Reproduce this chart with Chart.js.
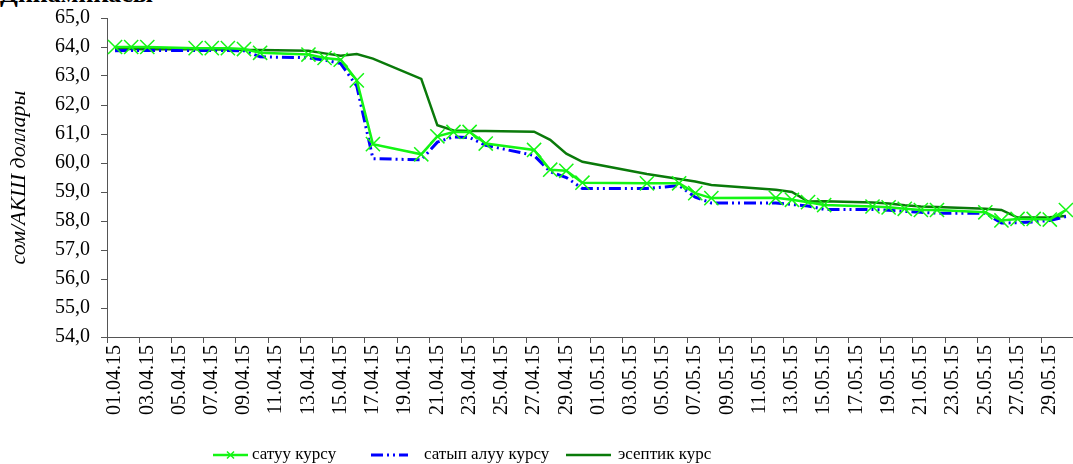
<!DOCTYPE html>
<html>
<head>
<meta charset="utf-8">
<script src="https://cdn.jsdelivr.net/npm/chart.js@4.4.1/dist/chart.umd.min.js"></script>
<style>
html,body{margin:0;padding:0;overflow:hidden;background:#fff;}
#wrap{position:relative;width:1073px;height:464px;overflow:hidden;background:#fff;}
#c{position:absolute;left:0;top:0;}
#title{position:absolute;left:0;top:-19px;font:bold 26px 'Liberation Serif',serif;line-height:1;white-space:nowrap;color:#000;}
</style>
</head>
<body>
<div id="wrap">
<div id="title">Динамикасы</div>
<canvas id="c" width="1092" height="464"></canvas>
</div>
<script>
const dates = [
 "01.04.15","02.04.15","03.04.15","04.04.15","05.04.15","06.04.15","07.04.15","08.04.15","09.04.15","10.04.15",
 "11.04.15","12.04.15","13.04.15","14.04.15","15.04.15","16.04.15","17.04.15","18.04.15","19.04.15","20.04.15",
 "21.04.15","22.04.15","23.04.15","24.04.15","25.04.15","26.04.15","27.04.15","28.04.15","29.04.15","30.04.15",
 "01.05.15","02.05.15","03.05.15","04.05.15","05.05.15","06.05.15","07.05.15","08.05.15","09.05.15","10.05.15",
 "11.05.15","12.05.15","13.05.15","14.05.15","15.05.15","16.05.15","17.05.15","18.05.15","19.05.15","20.05.15",
 "21.05.15","22.05.15","23.05.15","24.05.15","25.05.15","26.05.15","27.05.15","28.05.15","29.05.15","30.05.15"
];
// сатуу курсу
const sellRate = [
 64.00,64.00,64.00,null,null,63.96,63.96,63.96,63.93,63.80,
 null,null,63.74,63.62,63.56,62.85,60.65,null,null,60.30,
 60.92,61.07,61.07,60.67,null,null,60.45,59.77,59.73,59.32,
 null,null,null,59.30,null,59.30,58.96,58.79,null,null,
 null,58.80,58.73,58.65,58.55,null,null,58.50,58.47,58.42,
 58.38,58.38,null,null,58.30,58.02,58.07,58.07,58.05,58.38
];
// сатып алуу курсу
const buyRate = [
 63.87,63.88,63.88,null,null,63.88,63.88,63.88,63.87,63.66,
 null,null,63.63,63.55,63.43,62.65,60.15,null,null,60.11,
 60.72,60.90,60.88,60.61,null,null,60.26,59.70,59.50,59.12,
 null,null,null,59.12,null,59.22,58.82,58.62,null,null,
 null,58.62,58.57,58.52,58.40,null,null,58.40,58.37,58.33,
 58.30,58.27,null,null,58.27,57.93,57.94,57.97,58.02,58.15
];
// эсептик курс
const officialRate = [
 63.93,63.93,63.92,null,null,63.92,63.91,63.91,63.90,63.90,
 null,null,63.87,63.78,63.70,63.76,63.60,null,null,62.90,
 61.30,61.12,61.10,61.10,null,null,61.08,60.80,60.32,60.04,
 null,null,null,59.62,null,59.45,59.36,59.24,null,null,
 null,59.08,59.00,58.67,58.68,null,null,58.64,58.60,58.54,
 58.50,58.48,null,null,58.42,58.38,58.12,58.12,58.13,58.17
];
const seriesNames = ["сатуу курсу","сатып алуу курсу","эсептик курс"];
const yTitle = "сом/АКШ доллары";

const SERIF = "'Liberation Serif', serif";
const GREEN = '#14f514', BLUE = '#0000ff', DARK = '#0a7a0a';
const blueDash = [12,4,2,4,2,4];

const legendPlugin = {
  id: 'customLegend',
  afterDraw(chart) {
    const ctx = chart.ctx;
    const y = 455;
    const items = [
      {x0:213, x1:248, tx:252, color:GREEN, dash:[], marker:true, w:2.5},
      {x0:371, x1:408, tx:424, color:BLUE, dash:blueDash, marker:false, w:3},
      {x0:566, x1:611, tx:618, color:DARK, dash:[], marker:false, w:2.5}
    ];
    ctx.save();
    items.forEach((it, i) => {
      ctx.strokeStyle = it.color;
      ctx.lineWidth = it.w;
      ctx.setLineDash(it.dash);
      ctx.beginPath(); ctx.moveTo(it.x0, y); ctx.lineTo(it.x1, y); ctx.stroke();
      ctx.setLineDash([]);
      if (it.marker) {
        const cx = (it.x0 + it.x1) / 2, r = 3.5;
        ctx.lineWidth = 1.5;
        ctx.beginPath();
        ctx.moveTo(cx - r, y - r); ctx.lineTo(cx + r, y + r);
        ctx.moveTo(cx + r, y - r); ctx.lineTo(cx - r, y + r);
        ctx.stroke();
      }
      ctx.fillStyle = '#000';
      ctx.font = '17px ' + SERIF;
      ctx.textBaseline = 'middle';
      ctx.textAlign = 'left';
      ctx.fillText(seriesNames[i], it.tx, y);
    });
    ctx.restore();
  }
};

new Chart(document.getElementById('c'), {
  type: 'line',
  data: {
    labels: dates,
    datasets: [
      {label: seriesNames[0], data: sellRate, borderColor: GREEN, backgroundColor: GREEN,
       borderWidth: 2.5, pointStyle: 'crossRot', pointRadius: 10, pointBorderWidth: 1.5,
       pointBorderColor: GREEN, spanGaps: true, tension: 0},
      {label: seriesNames[1], data: buyRate, borderColor: BLUE, backgroundColor: BLUE,
       borderWidth: 3, borderDash: blueDash, pointRadius: 0, spanGaps: true, tension: 0},
      {label: seriesNames[2], data: officialRate, borderColor: DARK, backgroundColor: DARK,
       borderWidth: 2.5, pointRadius: 0, spanGaps: true, tension: 0}
    ]
  },
  options: {
    responsive: false,
    animation: false,
    layout: {padding: {top: 18, right: 8, left: 0, bottom: 0}},
    plugins: {legend: {display: false}, tooltip: {enabled: false}},
    scales: {
      x: {
        type: 'category',
        offset: true,
        afterFit: s => { s.height = 127; },
        grid: {offset: true, drawOnChartArea: false, tickLength: 6,
               tickColor: c => (c.index % 2 === 0 ? '#555' : 'rgba(0,0,0,0)')},
        border: {color: '#555', width: 1},
        ticks: {autoSkip: false, minRotation: 90, maxRotation: 90, padding: 2,
                color: '#000', font: {family: SERIF, size: 20},
                callback: (v, i) => (i % 2 === 0 ? dates[i] : '')}
      },
      y: {
        min: 54, max: 65,
        afterFit: s => { s.width = 107; s.paddingTop = 0; s.paddingBottom = 0; },
        grid: {drawOnChartArea: false, tickLength: 6, tickColor: '#555'},
        border: {color: '#555', width: 1},
        ticks: {stepSize: 1, padding: 11, color: '#000', font: {family: SERIF, size: 20},
                callback: v => v.toFixed(1).replace('.', ',')},
        title: {display: true, text: yTitle, color: '#000',
                font: {family: SERIF, size: 22, style: 'italic'}, padding: {top: 6, bottom: 0}}
      }
    }
  },
  plugins: [legendPlugin]
});
</script>
</body>
</html>
